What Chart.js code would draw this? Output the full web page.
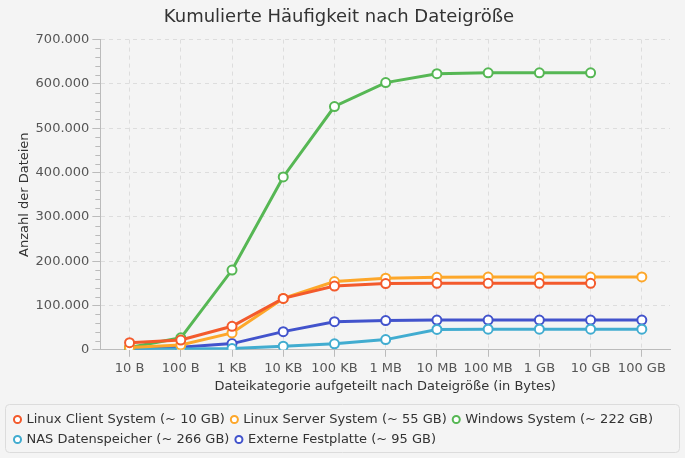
<!DOCTYPE html>
<html><head><meta charset="utf-8">
<script src="https://cdn.jsdelivr.net/npm/chart.js@4/dist/chart.umd.min.js"></script>
<style>
html,body{margin:0;padding:0;background:#f4f4f4;}
#wrap{width:685px;height:458px;}
</style></head>
<body><div id="wrap"><canvas id="c" width="685" height="458"></canvas></div>
<script>
const categories = ['10 B','100 B','1 KB','10 KB','100 KB','1 MB','10 MB','100 MB','1 GB','10 GB','100 GB'];
const linuxClient = [16000, 22000, 53000, 116000, 144000, 149500, 150000, 150000, 150000, 150000, null];
const linuxServer = [5000, 11000, 38000, 116000, 154000, 161500, 163500, 164000, 164000, 164000, 164500];
const windowsSys = [5000, 27000, 180000, 390000, 549000, 603000, 623000, 625000, 625000, 625000, null];
const nasStorage = [1000, 2000, 3000, 8000, 13600, 23000, 46000, 46500, 46500, 46500, 46500];
const externalDisk = [3000, 6000, 14000, 41000, 63500, 66000, 67000, 67000, 67000, 67000, 67000];
const seriesNames = ['Linux Client System (~ 10 GB)','Linux Server System (~ 55 GB)','Windows System (~ 222 GB)','NAS Datenspeicher (~ 266 GB)','Externe Festplatte (~ 95 GB)'];
const seriesColors = ['#f35a2c','#fda72a','#56b754','#41acd0','#4253cc'];
const seriesData = [linuxClient, linuxServer, windowsSys, nasStorage, externalDisk];

const FONT = 'DejaVu Sans';
Chart.defaults.font.family = FONT;
Chart.defaults.color = '#555';

const fmt = v => v.toString().replace(/\B(?=(\d{3})+(?!\d))/g, '.');

const minorTicks = {
  id: 'minorTicks',
  afterDraw(chart) {
    const y = chart.scales.y, ctx = chart.ctx;
    ctx.save();
    ctx.strokeStyle = '#bbb';
    ctx.lineWidth = 1;
    for (let v = 0; v <= 700000; v += 20000) {
      if (v % 100000 === 0) continue;
      const py = Math.round(y.getPixelForValue(v)) + 0.5;
      ctx.beginPath();
      ctx.moveTo(y.right - 5, py);
      ctx.lineTo(y.right, py);
      ctx.stroke();
    }
    ctx.restore();
  }
};
const legendBox = {
  id: 'legendBox',
  beforeDraw(chart) {
    const l = chart.legend, ctx = chart.ctx;
    if (!l) return;
    ctx.save();
    ctx.strokeStyle = '#dcdcdc';
    ctx.lineWidth = 1;
    const top = Math.round(l.top - 2) + 0.5;
    const x = 5.5, w = chart.width - 11, h = (chart.height - 5.5) - top, r = 4;
    ctx.beginPath();
    ctx.roundRect(x, top, w, h, r);
    ctx.stroke();
    ctx.restore();
  }
};

new Chart(document.getElementById('c'), {
  type: 'line',
  data: {
    datasets: seriesData.map((d, i) => ({
      label: seriesNames[i],
      data: d.map((v, k) => ({ x: k, y: v })),
      borderColor: seriesColors[i],
      backgroundColor: '#ffffff',
      pointBackgroundColor: '#ffffff',
      pointBorderColor: seriesColors[i],
      pointBorderWidth: 2,
      pointRadius: 4.5,
      borderWidth: 3,
      tension: 0,
      spanGaps: false
    }))
  },
  options: {
    responsive: false,
    animation: false,
    layout: { padding: { left: 8, right: 15, top: 0, bottom: 2 } },
    plugins: {
      title: {
        display: true,
        text: 'Kumulierte Häufigkeit nach Dateigröße',
        color: '#333',
        font: { size: 18, weight: 'normal', family: FONT },
        padding: { top: 7, bottom: 11 }
      },
      legend: {
        position: 'bottom',
        align: 'start',
        labels: {
          usePointStyle: true,
          pointStyle: 'circle',
          boxWidth: 5,
          boxHeight: 5,
          padding: 7,
          color: '#333',
          font: { size: 13, family: FONT },
          generateLabels(chart) {
            return chart.data.datasets.map((ds, i) => ({
              text: ds.label,
              fillStyle: '#ffffff',
              strokeStyle: ds.borderColor,
              lineWidth: 2,
              pointStyle: 'circle',
              hidden: false,
              datasetIndex: i,
              fontColor: '#333'
            }));
          }
        }
      },
      tooltip: { enabled: false }
    },
    scales: {
      x: {
        type: 'linear',
        min: -0.57, max: 10.55,
        afterBuildTicks: s => { s.ticks = categories.map((c, i) => ({ value: i })); },
        grid: { color: '#dddddd', tickColor: '#bbb', tickLength: 7, drawTicks: true },
        border: { display: true, color: '#bbb', dash: [4, 4] },
        ticks: { stepSize: 1, color: '#555', font: { size: 13 }, maxRotation: 0, autoSkip: false, padding: 4,
                 callback: v => categories[v] },
        title: { display: true, text: 'Dateikategorie aufgeteilt nach Dateigröße (in Bytes)', color: '#333', font: { size: 13 }, padding: { top: -2, bottom: 12 } }
      },
      y: {
        min: 0, max: 700000,
        grid: { color: '#dddddd', tickColor: '#bbb', tickLength: 8 },
        border: { display: true, color: '#bbb', dash: [4, 4] },
        ticks: { stepSize: 100000, color: '#555', font: { size: 13 }, padding: 3, callback: v => fmt(v) },
        title: { display: true, text: 'Anzahl der Dateien', color: '#333', font: { size: 13 }, padding: { top: 9, bottom: 0 } }
      }
    }
  },
  plugins: [minorTicks, legendBox]
});
</script></body></html>
